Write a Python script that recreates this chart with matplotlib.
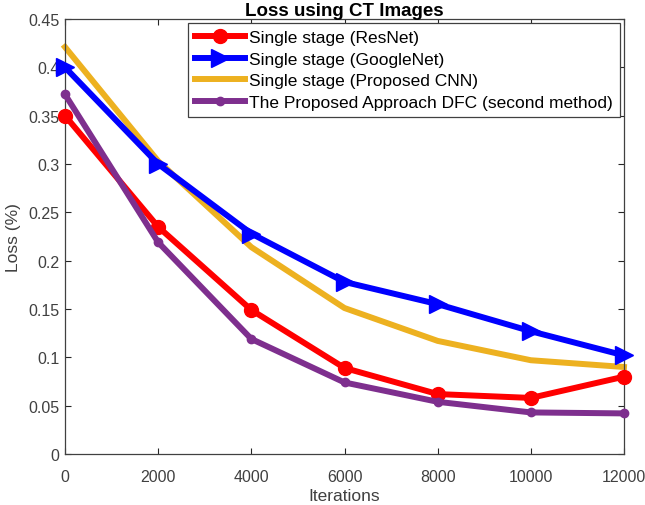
import matplotlib
matplotlib.use("Agg")
import matplotlib.pyplot as plt

iterations = [0, 2000, 4000, 6000, 8000, 10000, 12000]
resnet = [0.35, 0.235, 0.149, 0.089, 0.062, 0.058, 0.080]
googlenet = [0.40, 0.30, 0.228, 0.178, 0.155, 0.127, 0.102]
proposed_cnn = [0.421, 0.303, 0.214, 0.151, 0.117, 0.097, 0.090]
dfc = [0.372, 0.219, 0.119, 0.074, 0.054, 0.043, 0.042]
labels = ["Single stage (ResNet)", "Single stage (GoogleNet)",
          "Single stage (Proposed CNN)", "The Proposed Approach DFC (second method)"]
xticks = [0, 2000, 4000, 6000, 8000, 10000, 12000]
yticks = [0, 0.05, 0.1, 0.15, 0.2, 0.25, 0.3, 0.35, 0.4, 0.45]
ytick_labels = ['0', '0.05', '0.1', '0.15', '0.2', '0.25', '0.3', '0.35', '0.4', '0.45']

plt.rcParams['font.family'] = ['Liberation Sans', 'DejaVu Sans']
fig = plt.figure(figsize=(6.45, 5.06), dpi=100)
ax = fig.add_axes([65/645, 1-455/506, (624-65)/645, (455-20)/506])

lw = 4.3
ax.plot(iterations, resnet, color='#FF0000', lw=lw, marker='o', ms=10, label=labels[0], clip_on=False, zorder=3)
ax.plot(iterations, googlenet, color='#0000FF', lw=lw, marker='>', ms=13, label=labels[1], clip_on=False, zorder=3)
ax.plot(iterations, proposed_cnn, color='#EDB120', lw=lw, label=labels[2], clip_on=False, zorder=2)
ax.plot(iterations, dfc, color='#7E2F8E', lw=lw, marker='o', ms=6, label=labels[3], clip_on=False, zorder=4)

ax.set_xlim(0, 12000)
ax.set_ylim(0, 0.45)
ax.set_xticks(xticks)
ax.set_xticklabels([str(v) for v in xticks])
ax.set_yticks(yticks)
ax.set_yticklabels(ytick_labels)
ax.tick_params(direction='in', top=True, right=True, labelsize=11.5, colors='#262626',
               labelcolor='#404040', length=4, width=0.8)
ax.tick_params(axis='x', pad=11)
ax.tick_params(axis='y', pad=4)
for s in ax.spines.values():
    s.set_color('#404040')
    s.set_linewidth(0.9)
ax.set_xlabel('Iterations', fontsize=12.5, color='#404040', labelpad=3)
ax.set_ylabel('Loss (%)', fontsize=12.5, color='#404040', labelpad=5)
ax.set_title('Loss using CT Images', fontsize=13.5, fontweight='bold', pad=3)

leg = ax.legend(loc='upper right', fontsize=12.5, frameon=True, fancybox=False,
                handlelength=2.9, handletextpad=0.2, borderpad=0.4, labelspacing=0.36,
                borderaxespad=0.25, edgecolor='#404040', framealpha=1)
leg.get_frame().set_linewidth(0.9)

fig.savefig('out.png', dpi=100)
